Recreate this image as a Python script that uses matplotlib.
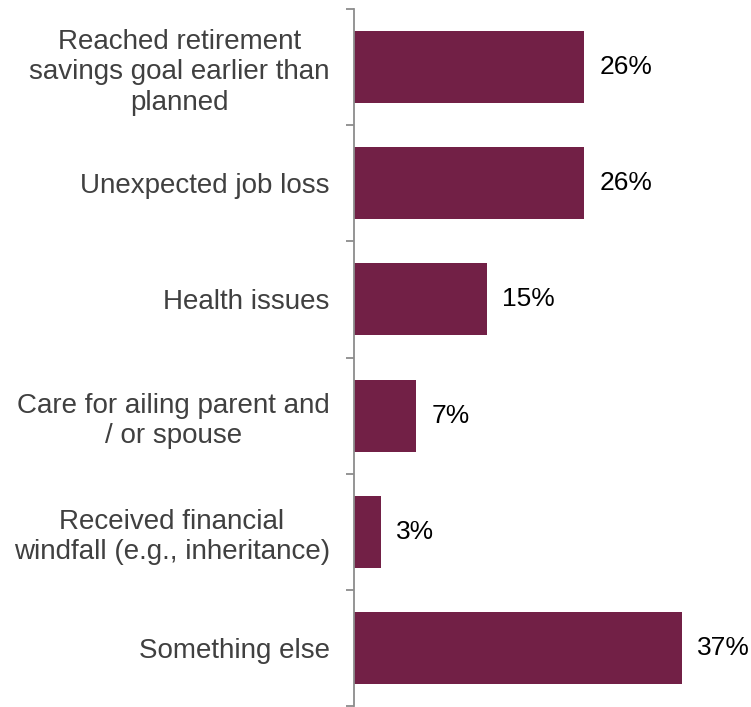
import matplotlib
matplotlib.use("Agg")
import matplotlib.pyplot as plt

plt.rcParams['font.family'] = ['Liberation Sans', 'DejaVu Sans']

# survey categories, top to bottom
reasons = [
    "Reached retirement\nsavings goal earlier than\nplanned",
    "Unexpected job loss",
    "Health issues",
    "Care for ailing parent and\n/ or spouse",
    "Received financial\nwindfall (e.g., inheritance)",
    "Something else",
]
shares = [26, 26, 15, 7, 3, 37]

bar_color = "#722046"
label_color = "#404040"
axis_color = "#8c8c8c"

fig = plt.figure(figsize=(7.51, 7.07), dpi=100)
W, H = 751, 707
ax = fig.add_axes([354 / W, 1 - 706 / H, 387 / W, 697 / H])

pos = list(range(len(reasons)))
ax.barh(pos, shares, height=0.62, color=bar_color, edgecolor="none", zorder=2)

for y, v in zip(pos, shares):
    ax.text(v + 1.75, y, f"{v}%", va="center", ha="left", fontsize=19, color="black")

ax.set_xlim(0, 43.7)
ax.set_ylim(len(reasons) - 0.5, -0.5)

# boundary ticks on the category axis, labels sit between them
ax.set_yticks([i - 0.5 for i in range(len(reasons) + 1)])
ax.set_yticklabels([])
ax.tick_params(axis="y", which="major", length=6, width=1.3, color=axis_color, direction="out")
ax.set_yticks(pos, minor=True)
ax.set_yticklabels(reasons, minor=True, fontsize=20, color=label_color, linespacing=1.22)
ax.tick_params(axis="y", which="minor", length=0, pad=17.5)
for lab in ax.get_yticklabels(minor=True):
    lab.set_multialignment("center")

ax.set_xticks([])
for side in ["top", "right", "bottom"]:
    ax.spines[side].set_visible(False)
ax.spines["left"].set_color(axis_color)
ax.spines["left"].set_linewidth(1.3)

fig.savefig("out.png", dpi=100)
